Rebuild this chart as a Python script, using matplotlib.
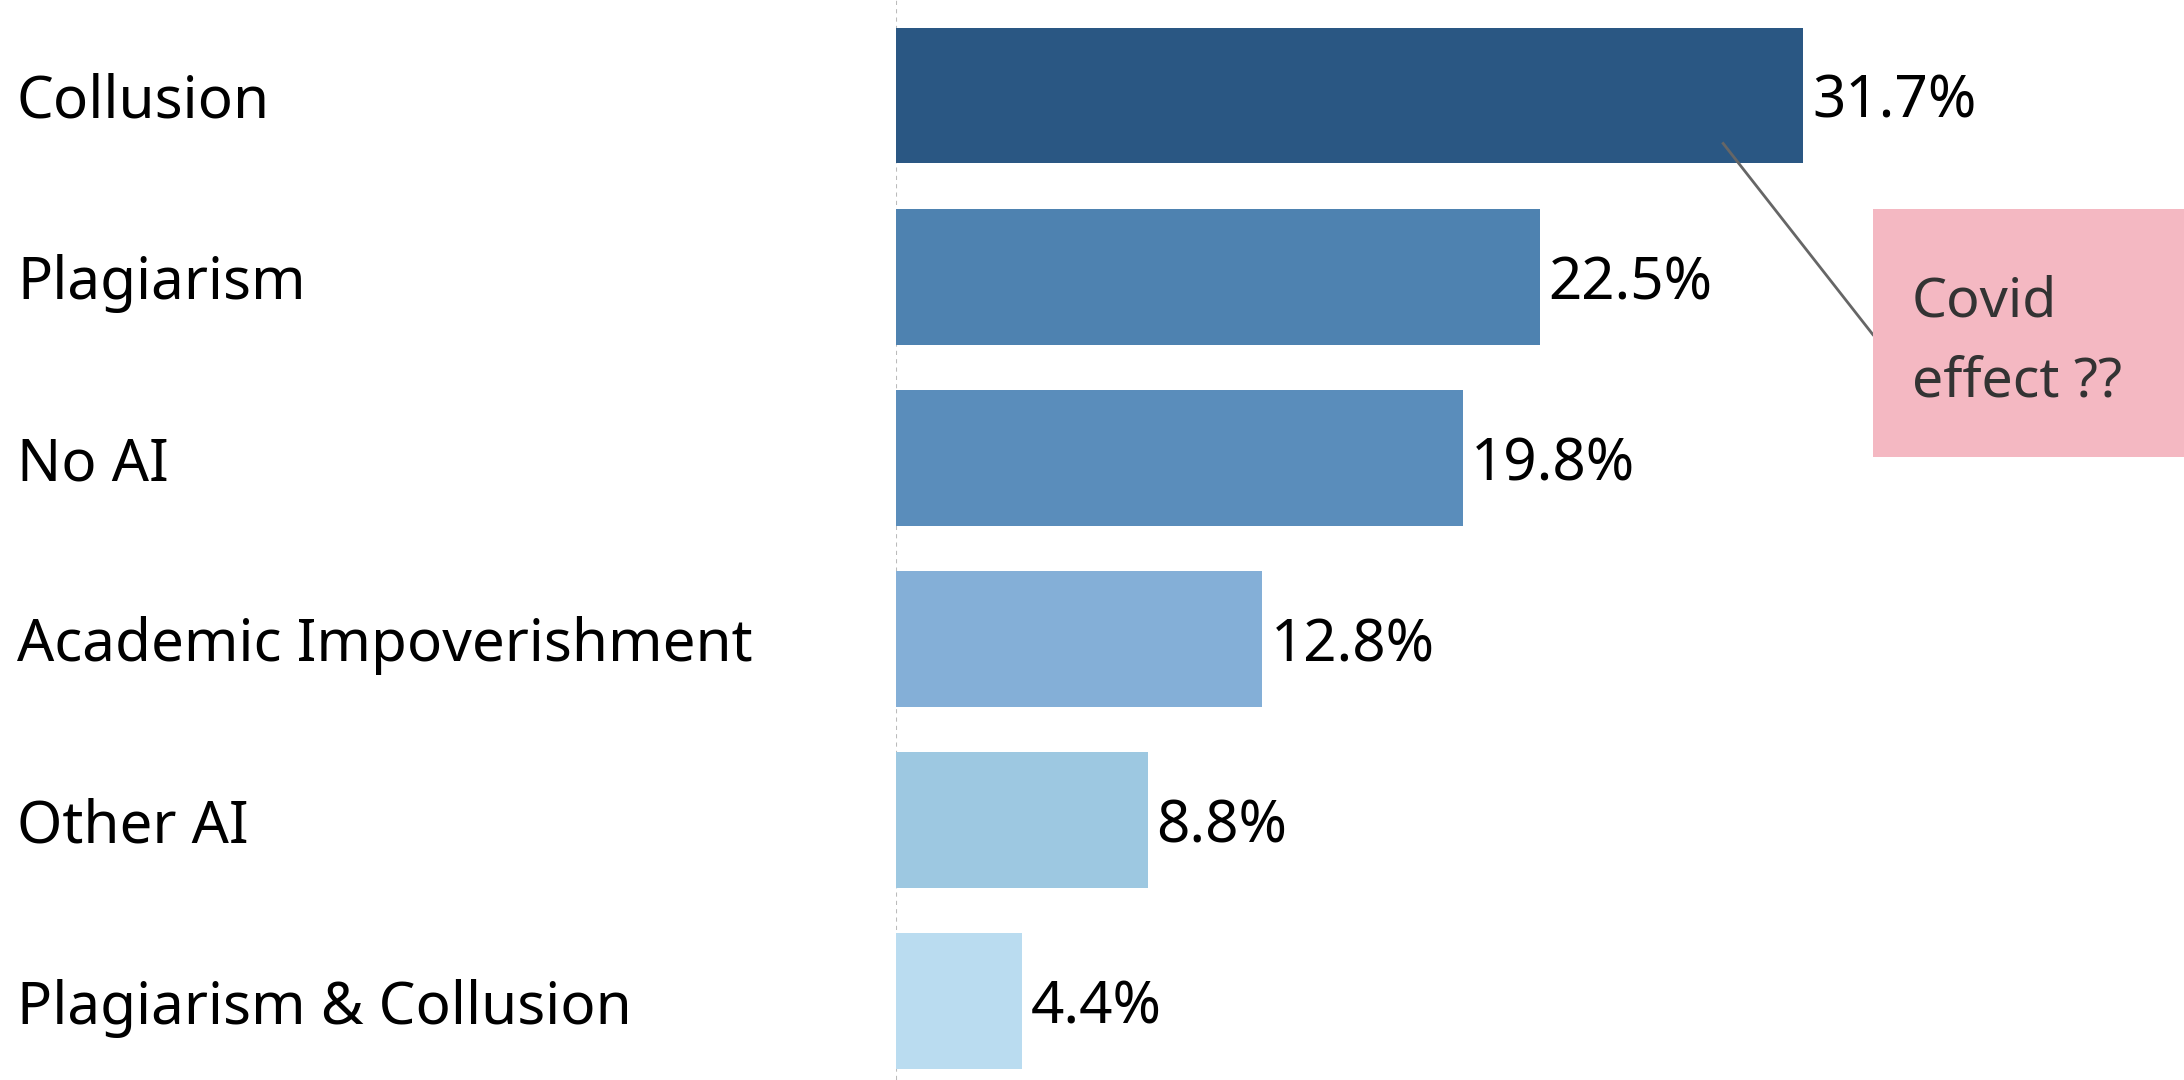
import matplotlib
matplotlib.use('Agg')
import matplotlib.pyplot as plt
from matplotlib.patches import Rectangle
from matplotlib.transforms import blended_transform_factory

categories = ['Collusion', 'Plagiarism', 'No AI', 'Academic Impoverishment',
              'Other AI', 'Plagiarism & Collusion']
values = [31.7, 22.5, 19.8, 12.8, 8.8, 4.4]
colors = ['#2a5783', '#4e82b0', '#5a8dbb', '#84afd7', '#9dc8e1', '#badcf0']

plt.rcParams['font.family'] = ['Noto Sans', 'DejaVu Sans']

fig = plt.figure(figsize=(21.84, 10.8), dpi=100)
ax = fig.add_axes([896 / 2184, 0, 1 - 896 / 2184, 1])

y = range(len(categories))
ax.barh(y, values, height=0.75, color=colors, zorder=2)
ax.set_xlim(0, 45)
ax.set_ylim(5.435, -0.527)

for i, v in enumerate(values):
    ax.text(v + 0.3, i, f"{v}%", va='center_baseline', ha='left', fontsize=42, color='black')

# category labels at the far left of the figure
label_tr = blended_transform_factory(fig.transFigure, ax.transData)
for i, c in enumerate(categories):
    ax.text(17 / 2184, i, c, transform=label_tr, va='center_baseline', ha='left',
            fontsize=42, color='black')

ax.axvline(0, color='#bbbbbb', linestyle=(0, (2, 2)), linewidth=1.5, zorder=1)

for s in ax.spines.values():
    s.set_visible(False)
ax.set_xticks([])
ax.set_yticks([])

# annotation
ax.plot([28.9, 34.13], [0.265, 1.32], color='#666666', linewidth=2, zorder=3)
ax.add_patch(Rectangle((34.13, 0.627), 12, 1.37, facecolor='#f4b8c2', edgecolor='none', zorder=3))
ax.text(35.5, 1.36, "Covid\neffect ??", va='center', ha='left', fontsize=40,
        color='#333333', linespacing=1.6, zorder=4)

fig.savefig('out.png', dpi=100)
